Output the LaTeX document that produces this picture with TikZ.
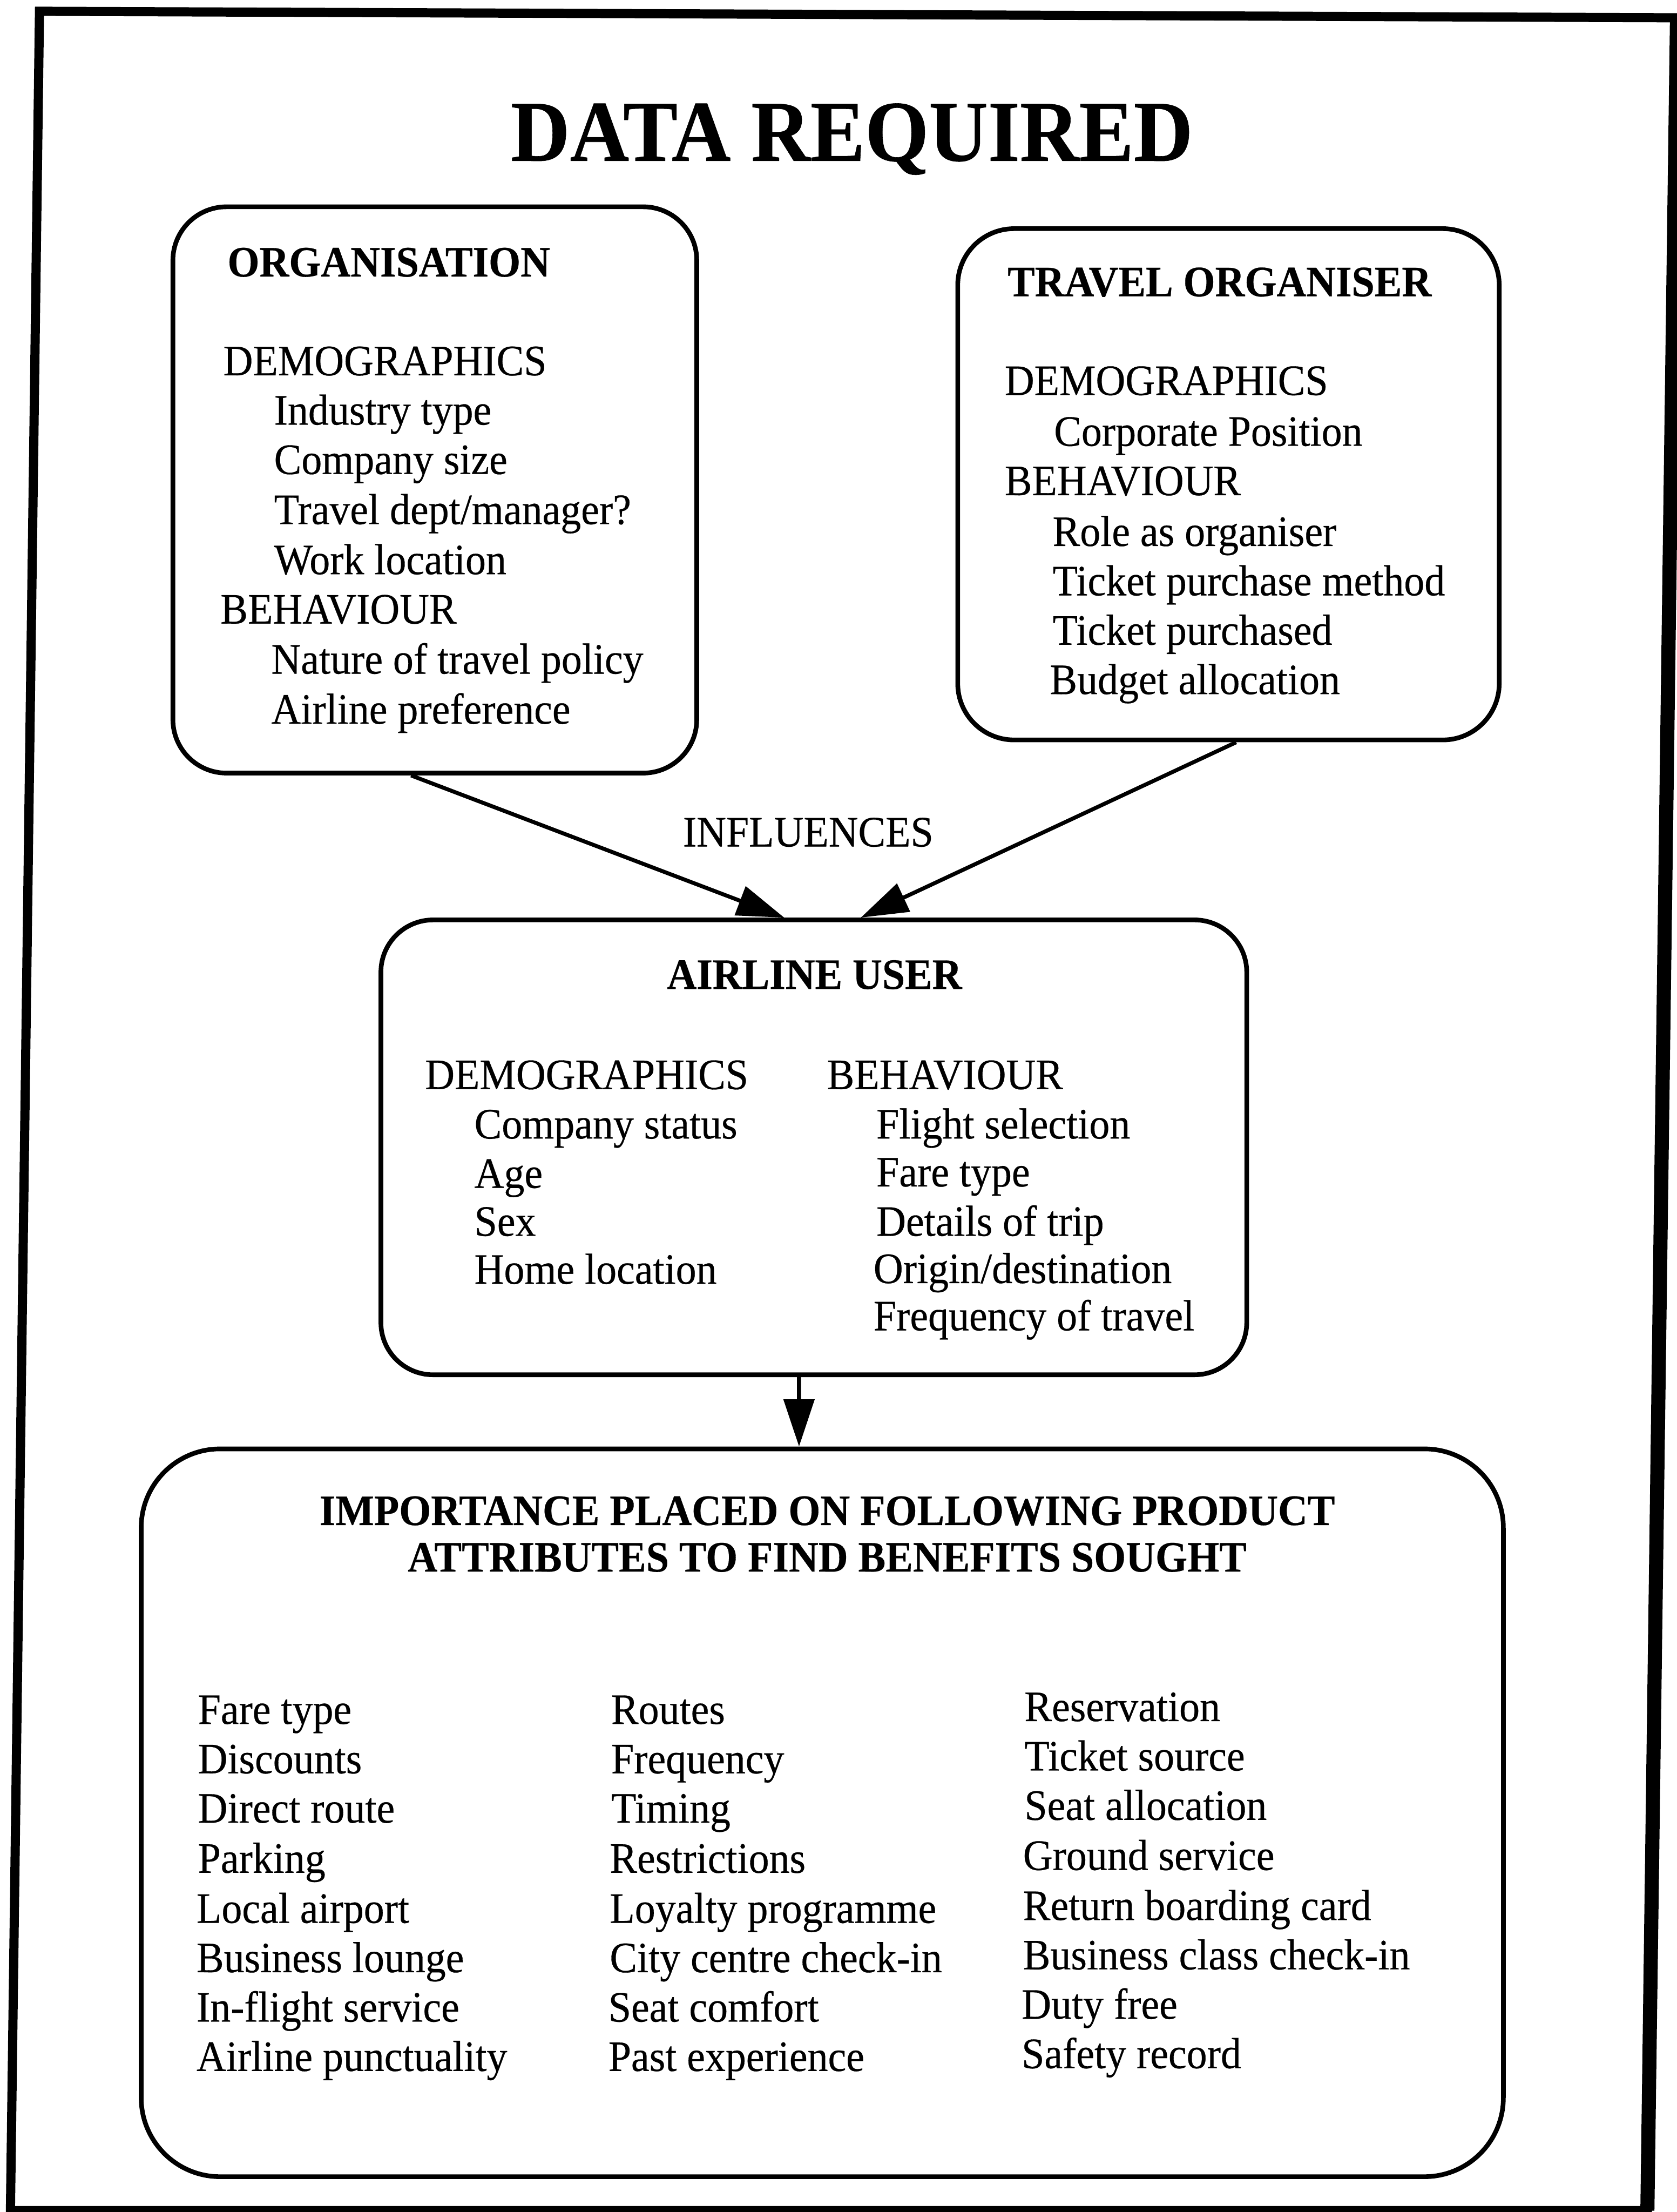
\documentclass[tikz,border=0pt]{standalone}
\usepackage{fontspec}
\setmainfont{Liberation Serif}[FakeStretch=0.945, FakeBold=0.35]
\usetikzlibrary{arrows.meta,calc}
\newcommand\bodyfont{\fontsize{17.5}{20}\selectfont}
\newcommand\titlefont{\fontsize{35}{39}\selectfont\bfseries}
\begin{document}
\begin{tikzpicture}[x=0.02cm,y=-0.02cm,
  txt/.style={anchor=base west, inner sep=0pt, font=\bodyfont},
  btxt/.style={anchor=base west, inner sep=0pt, font=\bodyfont\bfseries},
  ctxt/.style={anchor=base, inner sep=0pt, font=\bodyfont\bfseries},
  box/.style={draw, line width=0.066cm, inner sep=0pt},
  conn/.style={line width=0.056cm, -{Triangle[length=0.67cm,width=0.43cm]}},
  border/.style={line width=0.13cm, line join=miter}
]
\useasboundingbox (0,0) rectangle (1189,1568);

% outer frame
\draw[border] (28,8) -- (1189,12.6) -- (1168,1567) -- (7.4,1567) -- cycle;
\draw[line width=0.2cm] (1189,12.6) -- (1168,1567);

% title
\node[anchor=base, inner sep=0pt, font=\titlefont] (title) at (604,114) {DATA REQUIRED};

% boxes
\node[box, rounded corners=0.76cm, minimum width=7.43cm, minimum height=8.03cm] (org) at (308.3,347.3) {};
\node[box, rounded corners=0.8cm, minimum width=7.68cm, minimum height=7.25cm] (trav) at (871,343.3) {};
\node[box, rounded corners=0.74cm, minimum width=12.28cm, minimum height=6.45cm] (air) at (577,813.3) {};
\node[box, rounded corners=1.12cm, minimum width=19.32cm, minimum height=10.32cm] (bot) at (583,1285) {};

% organisation text
\node[btxt] (o0) at (161,196) {ORGANISATION};
\node[txt] (o1) at (158,266) {DEMOGRAPHICS};
\node[txt] (o2) at (194,301) {Industry type};
\node[txt] (o3) at (194,336) {Company size};
\node[txt] (o4) at (194,371.5) {Travel dept/manager?};
\node[txt] (o5) at (194,407) {Work location};
\node[txt] (o6) at (156,442) {BEHAVIOUR};
\node[txt] (o7) at (192,477.5) {Nature of travel policy};
\node[txt] (o8) at (192,513) {Airline preference};

% travel organiser text
\node[btxt] (t0) at (714,210) {TRAVEL ORGANISER};
\node[txt] (t1) at (712,280) {DEMOGRAPHICS};
\node[txt] (t2) at (747,316) {Corporate Position};
\node[txt] (t3) at (712,351) {BEHAVIOUR};
\node[txt] (t4) at (746,387) {Role as organiser};
\node[txt] (t5) at (746,422) {Ticket purchase method};
\node[txt] (t6) at (746,457) {Ticket purchased};
\node[txt] (t7) at (744,492) {Budget allocation};

% influences
\node[anchor=base, inner sep=0pt, font=\bodyfont] (infl) at (573,600) {INFLUENCES};

% airline user text
\node[ctxt] (a0) at (577.5,701) {AIRLINE USER};
\node[txt] (a1) at (301,772) {DEMOGRAPHICS};
\node[txt] (a2) at (336,807) {Company status};
\node[txt] (a3) at (336,842) {Age};
\node[txt] (a4) at (336,876) {Sex};
\node[txt] (a5) at (336,910) {Home location};
\node[txt] (b1) at (586,772) {BEHAVIOUR};
\node[txt] (b2) at (621,807) {Flight selection};
\node[txt] (b3) at (621,841) {Fare type};
\node[txt] (b4) at (621,876) {Details of trip};
\node[txt] (b5) at (619,909.5) {Origin/destination};
\node[txt] (b6) at (619,943) {Frequency of travel};

% bottom heading
\node[ctxt] (h1) at (586.5,1081) {IMPORTANCE PLACED ON FOLLOWING PRODUCT};
\node[ctxt] (h2) at (586.5,1114) {ATTRIBUTES TO FIND BENEFITS SOUGHT};

% bottom columns
\node[txt] (c11) at (140,1222) {Fare type};
\node[txt] (c12) at (140,1257) {Discounts};
\node[txt] (c13) at (140,1292) {Direct route};
\node[txt] (c14) at (140,1327.5) {Parking};
\node[txt] (c15) at (139,1363) {Local airport};
\node[txt] (c16) at (139,1398) {Business lounge};
\node[txt] (c17) at (139,1433) {In-flight service};
\node[txt] (c18) at (139,1468) {Airline punctuality};

\node[txt] (c21) at (433,1222) {Routes};
\node[txt] (c22) at (433,1257) {Frequency};
\node[txt] (c23) at (433,1292) {Timing};
\node[txt] (c24) at (432,1327.5) {Restrictions};
\node[txt] (c25) at (432,1363) {Loyalty programme};
\node[txt] (c26) at (432,1398) {City centre check-in};
\node[txt] (c27) at (431,1433) {Seat comfort};
\node[txt] (c28) at (431,1468) {Past experience};

\node[txt] (c31) at (726,1220) {Reservation};
\node[txt] (c32) at (726,1255) {Ticket source};
\node[txt] (c33) at (726,1290) {Seat allocation};
\node[txt] (c34) at (725,1325.5) {Ground service};
\node[txt] (c35) at (725,1361) {Return boarding card};
\node[txt] (c36) at (725,1396) {Business class check-in};
\node[txt] (c37) at (724,1431) {Duty free};
\node[txt] (c38) at (724,1466) {Safety record};

% connectors
\draw[conn] ($(org.south west)!0.455!(org.south east)$) -- ($(air.north west)!0.466!(air.north east)$);
\draw[conn] ($(trav.south west)!0.514!(trav.south east)$) -- ($(air.north west)!0.554!(air.north east)$);
\draw[conn] ($(air.south west)!0.483!(air.south east)$) -- ($(bot.north west)!0.483!(bot.north east)$);
\end{tikzpicture}
\end{document}
